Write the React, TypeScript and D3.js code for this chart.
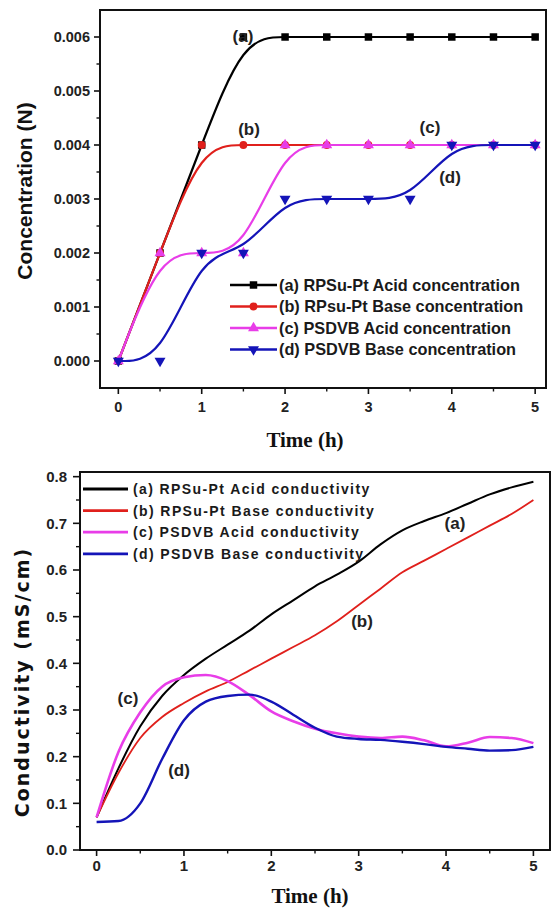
import React from 'react';
import * as d3 from 'd3';

// ---------- Top chart data (concentration) ----------
const concTime = [0, 0.5, 1, 1.5, 2, 2.5, 3, 3.5, 4, 4.5, 5];
const concA = [0, 0.002, 0.004, 0.006, 0.006, 0.006, 0.006, 0.006, 0.006, 0.006, 0.006];
const concB = [0, 0.002, 0.004, 0.004, 0.004, 0.004, 0.004, 0.004, 0.004, 0.004, 0.004];
const concC = [0, 0.002, 0.002, 0.002, 0.004, 0.004, 0.004, 0.004, 0.004, 0.004, 0.004];
const concD = [0, 0, 0.002, 0.002, 0.003, 0.003, 0.003, 0.003, 0.004, 0.004, 0.004];
const concLegend = [
  '(a) RPSu-Pt Acid concentration',
  '(b) RPsu-Pt Base concentration',
  '(c) PSDVB Acid concentration',
  '(d) PSDVB Base concentration',
];
const concYTicks = [0, 0.001, 0.002, 0.003, 0.004, 0.005, 0.006];
const concYMinor = [0.0005, 0.0015, 0.0025, 0.0035, 0.0045, 0.0055];
const timeTicks = [0, 1, 2, 3, 4, 5];
const timeMinor = [0.5, 1.5, 2.5, 3.5, 4.5];

// ---------- Bottom chart data (conductivity) ----------
const condTime = [0, 0.25, 0.5, 0.75, 1, 1.25, 1.5, 1.75, 2, 2.25, 2.5, 2.75, 3, 3.25, 3.5, 3.75, 4, 4.25, 4.5, 4.75, 5];
const condA = [0.07, 0.175, 0.265, 0.33, 0.375, 0.41, 0.44, 0.47, 0.505, 0.535, 0.565, 0.59, 0.618, 0.655, 0.685, 0.705, 0.722, 0.742, 0.762, 0.777, 0.789];
const condB = [0.07, 0.165, 0.24, 0.285, 0.315, 0.34, 0.36, 0.385, 0.41, 0.435, 0.46, 0.49, 0.525, 0.56, 0.595, 0.62, 0.645, 0.67, 0.695, 0.72, 0.75];
const condC = [0.07, 0.21, 0.295, 0.35, 0.37, 0.375, 0.362, 0.332, 0.297, 0.276, 0.26, 0.25, 0.243, 0.24, 0.243, 0.235, 0.222, 0.23, 0.242, 0.24, 0.229];
const condD = [0.06, 0.062, 0.1, 0.195, 0.278, 0.318, 0.33, 0.333, 0.318, 0.29, 0.262, 0.243, 0.238, 0.236, 0.232, 0.227, 0.221, 0.217, 0.213, 0.214, 0.221];
const condLegend = [
  '(a) RPSu-Pt Acid conductivity',
  '(b) RPSu-Pt Base conductivity',
  '(c) PSDVB Acid conductivity',
  '(d) PSDVB Base conductivity',
];
const condYTicks = [0, 0.1, 0.2, 0.3, 0.4, 0.5, 0.6, 0.7, 0.8];
const condYMinor = [0.05, 0.15, 0.25, 0.35, 0.45, 0.55, 0.65, 0.75];

const COLORS = ['#000000', '#e0201c', '#e83de8', '#1414b8'];
const SANS = '"Liberation Sans", Arial, sans-serif';
const SERIF = '"Liberation Serif", "Times New Roman", serif';

const symbolTypes = [d3.symbolSquare, d3.symbolCircle, d3.symbolTriangle, d3.symbolTriangle];
const symbolRot = [0, 0, 0, 180];
const symbolSizes = [56, 48, 52, 52];

function Marker({ x, y, i }: { x: number; y: number; i: number }) {
  const path = d3.symbol(symbolTypes[i], symbolSizes[i])() as string;
  return (
    <path d={path} transform={`translate(${x},${y}) rotate(${symbolRot[i]})`} fill={COLORS[i]} />
  );
}

function TopChart() {
  const L = 100, R = 546, T = 10, B = 388;
  const x = d3.scaleLinear().domain([-0.22, 5.13]).range([L, R]);
  const y = d3.scaleLinear().domain([-0.0005, 0.0065]).range([B, T]);
  const series = [concA, concB, concC, concD];
  const line = d3
    .line<number>()
    .x((_, i) => x(concTime[i]))
    .y((d) => y(d))
    .curve(d3.curveBasis);
  const fmt = d3.format('.3f');
  return (
    <g>
      {series.map((s, si) => (
        <g key={si}>
          <path d={line(s) as string} fill="none" stroke={COLORS[si]} strokeWidth={2.2} />
          {s.map((v, i) => (
            <Marker key={i} x={x(concTime[i])} y={y(v)} i={si} />
          ))}
        </g>
      ))}
      <rect x={L} y={T} width={R - L} height={B - T} fill="none" stroke="#111" strokeWidth={2} />
      {concYTicks.map((t) => (
        <g key={t}>
          <line x1={L - 6} x2={L} y1={y(t)} y2={y(t)} stroke="#111" strokeWidth={1.6} />
          <text x={L - 10} y={y(t)} dy="0.35em" textAnchor="end" fontFamily={SANS} fontWeight="bold" fontSize={14.5} fill="#222">
            {fmt(t)}
          </text>
        </g>
      ))}
      {concYMinor.map((t) => (
        <line key={t} x1={L - 3.5} x2={L} y1={y(t)} y2={y(t)} stroke="#111" strokeWidth={1.4} />
      ))}
      {timeTicks.map((t) => (
        <g key={t}>
          <line x1={x(t)} x2={x(t)} y1={B} y2={B + 6} stroke="#111" strokeWidth={1.6} />
          <text x={x(t)} y={B + 19} dy="0.35em" textAnchor="middle" fontFamily={SANS} fontWeight="bold" fontSize={14.5} fill="#222">
            {t}
          </text>
        </g>
      ))}
      {timeMinor.map((t) => (
        <line key={t} x1={x(t)} x2={x(t)} y1={B} y2={B + 3.5} stroke="#111" strokeWidth={1.4} />
      ))}
      <text x={305} y={440} dy="0.35em" textAnchor="middle" fontFamily={SERIF} fontWeight="bold" fontSize={21} fill="#111">
        Time (h)
      </text>
      <text transform="translate(25,191) rotate(-90)" dy="0.35em" textAnchor="middle" fontFamily={SANS} fontWeight="bold" fontSize={21} fill="#111">
        Concentration (N)
      </text>
      {[
        ['(a)', 243, 36],
        ['(b)', 249, 129],
        ['(c)', 430, 127],
        ['(d)', 450, 177],
      ].map(([t, lx, ly]) => (
        <text key={t as string} x={lx as number} y={ly as number} dy="0.35em" textAnchor="middle" fontFamily={SANS} fontWeight="bold" fontSize={17} fill="#222">
          {t}
        </text>
      ))}
      {concLegend.map((lab, i) => {
        const ly = 285 + i * 21.5;
        return (
          <g key={lab}>
            <line x1={230} x2={277} y1={ly} y2={ly} stroke={COLORS[i]} strokeWidth={2.4} />
            <Marker x={253.5} y={ly} i={i} />
            <text x={279} y={ly} dy="0.35em" fontFamily={SANS} fontWeight="bold" fontSize={16.3} fill="#1a1a1a">
              {lab}
            </text>
          </g>
        );
      })}
    </g>
  );
}

function BottomChart() {
  const L = 80, R = 550, T = 472, B = 850;
  const x = d3.scaleLinear().domain([-0.19, 5.19]).range([L, R]);
  const y = d3.scaleLinear().domain([0, 0.81]).range([B, T]);
  const series = [condA, condB, condC, condD];
  const widths = [2, 1.8, 2.6, 2.4];
  const line = d3
    .line<number>()
    .x((_, i) => x(condTime[i]))
    .y((d) => y(d))
    .curve(d3.curveMonotoneX);
  const fmt = d3.format('.1f');
  return (
    <g>
      {series.map((s, si) => (
        <path key={si} d={line(s) as string} fill="none" stroke={COLORS[si]} strokeWidth={widths[si]} />
      ))}
      <rect x={L} y={T} width={R - L} height={B - T} fill="none" stroke="#111" strokeWidth={2} />
      {condYTicks.map((t) => (
        <g key={t}>
          <line x1={L - 7} x2={L} y1={y(t)} y2={y(t)} stroke="#111" strokeWidth={1.6} />
          <text x={L - 13} y={y(t)} dy="0.35em" textAnchor="end" fontFamily={SANS} fontWeight="bold" fontSize={15} fill="#222">
            {fmt(t)}
          </text>
        </g>
      ))}
      {condYMinor.map((t) => (
        <line key={t} x1={L - 4} x2={L} y1={y(t)} y2={y(t)} stroke="#111" strokeWidth={1.4} />
      ))}
      {timeTicks.map((t) => (
        <g key={t}>
          <line x1={x(t)} x2={x(t)} y1={B} y2={B + 6} stroke="#111" strokeWidth={1.6} />
          <text x={x(t)} y={B + 16} dy="0.35em" textAnchor="middle" fontFamily={SANS} fontWeight="bold" fontSize={15} fill="#222">
            {t}
          </text>
        </g>
      ))}
      {timeMinor.map((t) => (
        <line key={t} x1={x(t)} x2={x(t)} y1={B} y2={B + 3.5} stroke="#111" strokeWidth={1.4} />
      ))}
      <text x={310} y={896} dy="0.35em" textAnchor="middle" fontFamily={SERIF} fontWeight="bold" fontSize={21} fill="#111">
        Time (h)
      </text>
      <text transform="translate(22,682) rotate(-90)" dy="0.35em" textAnchor="middle" fontFamily='"DejaVu Sans", Verdana, sans-serif' fontWeight="bold" fontSize={19} letterSpacing={2} fill="#111">
        Conductivity (mS/cm)
      </text>
      {[
        ['(a)', 455, 523],
        ['(b)', 362, 621],
        ['(c)', 128, 698],
        ['(d)', 179, 770],
      ].map(([t, lx, ly]) => (
        <text key={t as string} x={lx as number} y={ly as number} dy="0.35em" textAnchor="middle" fontFamily={SANS} fontWeight="bold" fontSize={17} fill="#222">
          {t}
        </text>
      ))}
      {condLegend.map((lab, i) => {
        const ly = 489 + i * 21.6;
        return (
          <g key={lab}>
            <line x1={83} x2={128} y1={ly} y2={ly} stroke={COLORS[i]} strokeWidth={2.8} />
            <text x={133} y={ly} dy="0.35em" fontFamily={SANS} fontWeight="bold" fontSize={14} letterSpacing={1.4} fill="#1a1a1a">
              {lab}
            </text>
          </g>
        );
      })}
    </g>
  );
}

export default function App() {
  return (
    <svg
      width={552}
      height={908}
      viewBox="0 0 552 908"
      style={{ position: 'absolute', left: 0, top: 0, background: '#fff' }}
    >
      <rect x={0} y={0} width={552} height={908} fill="#fff" />
      <TopChart />
      <BottomChart />
    </svg>
  );
}
